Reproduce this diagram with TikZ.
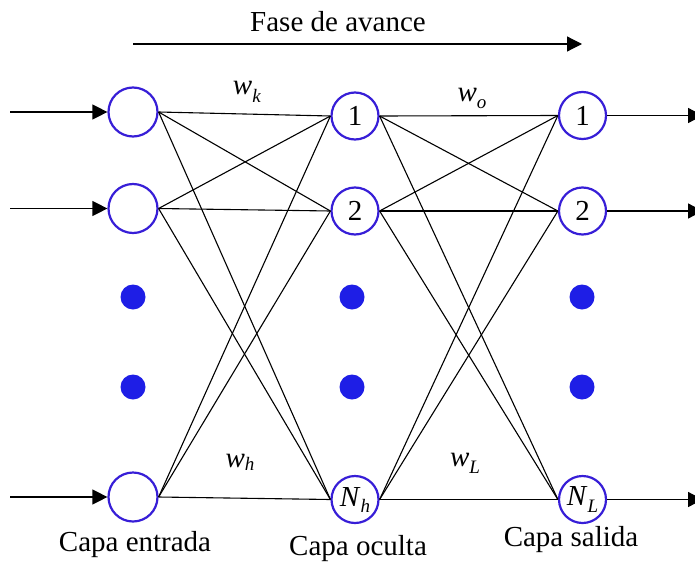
\documentclass[tikz,border=0pt]{standalone}
\usepackage{fontspec}
\setmainfont{Liberation Serif}
\usetikzlibrary{arrows.meta}
\definecolor{ring}{RGB}{55,30,215}
\definecolor{dotblue}{RGB}{30,30,230}
% italic letter with a lowered italic index
\newcommand\wsub[3]{\textit{#1}\raisebox{-#3}{\fontsize{19}{19}\selectfont\textit{#2}}}
\begin{document}
\begin{tikzpicture}[x=1pt,y=-1pt,
  neuron/.style={circle,draw=ring,line width=2.2pt,minimum size=47pt,inner sep=0pt,
    font=\fontsize{29}{29}\selectfont},
  inneuron/.style={neuron,minimum size=49pt},
  gap/.style={circle,fill=dotblue,minimum size=25pt,inner sep=0pt},
  link/.style={line width=1.1pt},
  flow/.style={line width=1.2pt,-{Triangle[length=15pt,width=15pt]}},
  lbl/.style={font=\fontsize{29}{32}\selectfont}]
\useasboundingbox (0,0) rectangle (695,586);

% direction of the forward pass
\node[lbl] (fase) at (338,22) {Fase de avance};
\coordinate (fs) at (133,44);
\coordinate (fe) at (582,44);
\draw[flow] (fs) -- (fe);

% input layer
\node[inneuron] (i1) at (133,112) {};
\node[inneuron] (i2) at (133,208.5) {};
\node[gap] (id1) at (133,297) {};
\node[gap] (id2) at (133,387) {};
\node[inneuron] (i3) at (133,497) {};

% hidden layer
\node[neuron] (h1) at (355,116) {1};
\node[neuron] (h2) at (355,211) {2};
\node[gap] (hd1) at (352,297) {};
\node[gap] (hd2) at (352,387) {};
\node[neuron] (h3) at (355,499.5) {\wsub{N}{h}{6pt}};

% output layer
\node[neuron] (o1) at (582.5,115.5) {1};
\node[neuron] (o2) at (582.5,211) {2};
\node[gap] (od1) at (582,297) {};
\node[gap] (od2) at (582,387) {};
\node[neuron] (o3) at (582.5,499.5) {\wsub{N}{L}{7pt}};

% external inputs and outputs
\coordinate (x1) at (10,112);
\coordinate (x2) at (10,208.5);
\coordinate (x3) at (10,497);
\coordinate (y1) at (703,115.5);
\coordinate (y2) at (703,211);
\coordinate (y3) at (703,499.5);
\foreach \a/\b in {x1/i1,x2/i2,x3/i3}
  \draw[flow] (\a) -- (\b.west);
\foreach \a/\b in {o1/y1,o2/y2,o3/y3}
  \draw[flow] (\a.east) -- (\b);

% weights between layers
\foreach \s in {i1,i2,i3}
  \foreach \t in {h1,h2,h3}
    \draw[link] (\s.east) -- (\t.west);
\foreach \s in {h1,h2,h3}
  \foreach \t in {o1,o2,o3}
    \draw[link] (\s.east) -- (\t.west);

% weight labels
\node[lbl] (wk) at (247,92) {\wsub{w}{k}{8pt}};
\node[lbl] (wo) at (472,98) {\wsub{w}{o}{7pt}};
\node[lbl] (wh) at (240,462) {\wsub{w}{h}{3pt}};
\node[lbl] (wl) at (465,463) {\wsub{w}{L}{7pt}};

% layer names
\node[lbl] (ce) at (135,545) {Capa entrada};
\node[lbl] (co) at (358,549) {Capa oculta};
\node[lbl] (cs) at (571,540) {Capa salida};
\end{tikzpicture}
\end{document}
